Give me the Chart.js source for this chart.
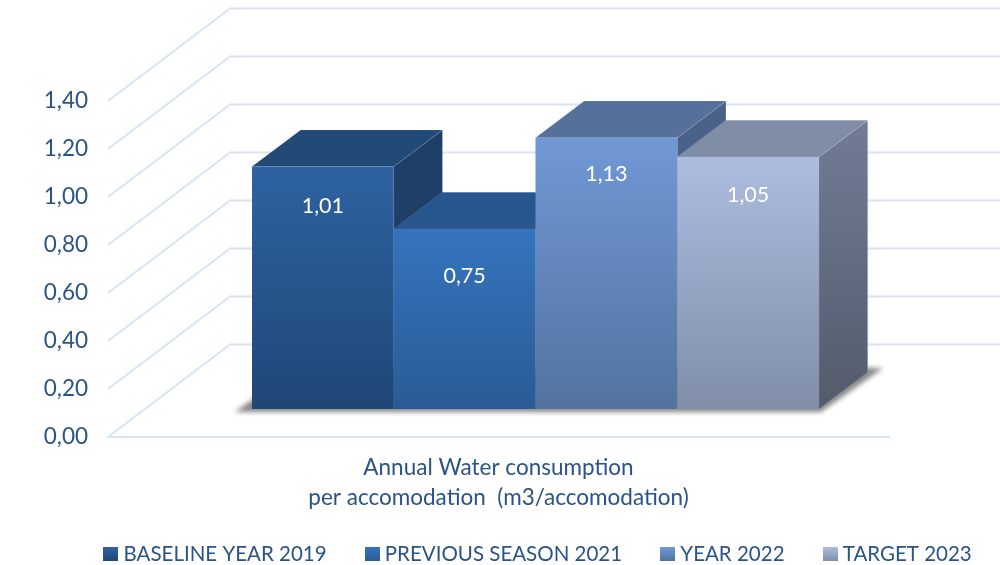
<!DOCTYPE html>
<html>
<head>
<meta charset="utf-8">
<title>Annual Water consumption</title>
<script src="https://cdn.jsdelivr.net/npm/chart.js@4"></script>
<style>
  html, body { margin: 0; padding: 0; background: #fff; }
  canvas { display: block; }
</style>
</head>
<body>
<canvas id="waterChart" width="1000" height="565"></canvas>
<script>
const categories = [['Annual Water consumption', 'per accomodation  (m3/accomodation)']];
const seriesNames = ['BASELINE YEAR 2019', 'PREVIOUS SEASON 2021', 'YEAR 2022', 'TARGET 2023'];
const baseline2019 = [1.01];
const previous2021 = [0.75];
const year2022 = [1.13];
const target2023 = [1.05];
const tickLabels = ['0,00', '0,20', '0,40', '0,60', '0,80', '1,00', '1,20', '1,40'];
const valueLabels = ['1,01', '0,75', '1,13', '1,05'];

const frontTop = ['#2e62a1', '#3574bd', '#7198d6', '#acbde0'];
const frontBottom = ['#1f4777', '#2a5b96', '#52739f', '#808ea8'];
const topFace = ['#214a78', '#28568f', '#54709b', '#808da6'];
const sideTop = ['#1e3f68', '#1e3f68', '#4a6289', '#717c95'];
const sideBottom = ['#1e3f68', '#1e3f68', '#4a6289', '#535b6c'];

const textColor = '#2a5488';
const lineColor = '#d7e4f5';
const edgeColor = 'rgba(255, 255, 255, 0.1)';
const fontFamily = 'Lato, "Open Sans", sans-serif';

// 3D layout: how far the bars sit behind the axis plane, and how deep things are
const plane = { dx: 37, dy: 28 };
const depth = { dx: 48.7, dy: 36.7 };
const wall = { dx: 122, dy: 92.5 };

function swatch(i) {
  const c = document.createElement('canvas');
  c.width = 15;
  c.height = 14;
  const g = c.getContext('2d');
  const grad = g.createLinearGradient(0, 0, 0, 14);
  grad.addColorStop(0, frontTop[i]);
  grad.addColorStop(1, frontBottom[i]);
  g.fillStyle = grad;
  g.fillRect(0, 0, 15, 14);
  return c;
}

function polygon(ctx, pts, fill, stroke) {
  ctx.beginPath();
  pts.forEach((p, i) => (i ? ctx.lineTo(p[0], p[1]) : ctx.moveTo(p[0], p[1])));
  ctx.closePath();
  ctx.fillStyle = fill;
  ctx.fill();
  if (stroke) {
    ctx.strokeStyle = stroke;
    ctx.lineWidth = 1;
    ctx.stroke();
  }
}

const box3d = {
  id: 'box3d',
  afterLayout(chart) {
    // legend sits right of centre in the original
    const legend = chart.legend;
    legend.left += 40;
    legend.right += 40;
    legend.top = 501;
    // x labels get clipped to the axis box, give them room
    chart.scales.x.bottom = 530;
  },
  beforeDatasetsDraw(chart) {
    const { ctx, chartArea, scales } = chart;
    ctx.save();
    ctx.strokeStyle = lineColor;
    ctx.lineWidth = 2;
    scales.y.ticks.forEach(t => {
      const y = scales.y.getPixelForValue(t.value);
      ctx.beginPath();
      ctx.moveTo(chartArea.left, y);
      ctx.lineTo(chartArea.left + wall.dx, y - wall.dy);
      ctx.lineTo(chartArea.right + wall.dx, y - wall.dy);
      ctx.stroke();
    });
    // soft shadow under the bars
    const first = chart.getDatasetMeta(0).data[0];
    const last = chart.getDatasetMeta(chart.data.datasets.length - 1).data[0];
    const base = first.base - plane.dy;
    const left = first.x - first.width / 2 + plane.dx;
    const right = last.x + last.width / 2 + plane.dx;
    ctx.filter = 'blur(2.5px)';
    polygon(ctx, [
      [left - 17, base + 3],
      [right + 2, base + 3],
      [right + 64, base - 41],
      [left + 45, base - 41]
    ], '#868686');
    ctx.restore();
  },
  beforeDatasetDraw() {
    return false; // bars are painted left to right below, not in the default order
  },
  afterDatasetsDraw(chart) {
    const { ctx } = chart;
    chart.data.datasets.forEach((ds, i) => {
      const bar = chart.getDatasetMeta(i).data[0];
      const l = bar.x - bar.width / 2;
      const r = bar.x + bar.width / 2;
      const t = bar.y;
      const b = bar.base;
      ctx.save();
      ctx.translate(plane.dx, -plane.dy);
      const sideGrad = ctx.createLinearGradient(0, t - depth.dy, 0, b);
      sideGrad.addColorStop(0, sideTop[i]);
      sideGrad.addColorStop(1, sideBottom[i]);
      polygon(ctx, [[r, t], [r + depth.dx, t - depth.dy], [r + depth.dx, b - depth.dy], [r, b]], sideGrad, edgeColor);
      polygon(ctx, [[l, t], [l + depth.dx, t - depth.dy], [r + depth.dx, t - depth.dy], [r, t]], topFace[i], edgeColor);
      bar.draw(ctx);
      // the label rides a bit lower on short bars
      const h = b - t;
      ctx.fillStyle = '#ffffff';
      ctx.font = '21.5px ' + fontFamily;
      ctx.textAlign = 'center';
      ctx.textBaseline = 'middle';
      ctx.fillText(valueLabels[i], bar.x, t + 68 - 0.118 * h);
      ctx.restore();
    });
  }
};

new Chart(document.getElementById('waterChart'), {
  type: 'bar',
  plugins: [box3d],
  data: {
    labels: categories,
    datasets: [baseline2019, previous2021, year2022, target2023].map((values, i) => ({
      label: seriesNames[i],
      data: values,
      categoryPercentage: 0.726,
      barPercentage: 1,
      borderWidth: 0,
      backgroundColor(context) {
        const { chart } = context;
        if (!chart.chartArea) return frontTop[i];
        const y = chart.scales.y;
        const grad = chart.ctx.createLinearGradient(0, y.getPixelForValue(values[0]), 0, y.getPixelForValue(0));
        grad.addColorStop(0, frontTop[i]);
        grad.addColorStop(1, frontBottom[i]);
        return grad;
      }
    }))
  },
  options: {
    responsive: false,
    animation: false,
    devicePixelRatio: 1,
    layout: { padding: { top: 101, left: 0, right: 0, bottom: 0 } },
    scales: {
      x: {
        grid: { display: false, drawTicks: false },
        border: { display: true, color: lineColor, width: 2 },
        afterFit(scale) { scale.height = 128 - (scale.chart.legend.height || 0); },
        ticks: {
          color: textColor,
          font: { family: fontFamily, size: 22.5, lineHeight: 1.333 },
          padding: 16,
          maxRotation: 0,
          autoSkip: false
        }
      },
      y: {
        min: 0,
        max: 1.4,
        grid: { display: false, drawTicks: false },
        border: { display: false },
        afterFit(scale) { scale.width = 108; },
        ticks: {
          stepSize: 0.2,
          autoSkip: false,
          color: textColor,
          padding: 20,
          font: { family: fontFamily, size: 22.5 },
          callback: (value, index) => tickLabels[index]
        }
      },
      // empty axis, only holds the room right of the floor
      rightGap: {
        position: 'right',
        grid: { display: false, drawTicks: false },
        border: { display: false },
        ticks: { display: false },
        afterFit(scale) { scale.width = 111; }
      }
    },
    plugins: {
      title: { display: false },
      tooltip: { enabled: false },
      legend: {
        position: 'bottom',
        labels: {
          color: textColor,
          font: { family: fontFamily, size: 20.5 },
          usePointStyle: true,
          pointStyleWidth: 5,
          padding: 43,
          generateLabels(chart) {
            const items = Chart.defaults.plugins.legend.labels.generateLabels(chart);
            items.forEach((item, i) => { item.pointStyle = swatch(i); });
            return items;
          }
        }
      }
    }
  }
});
</script>
</body>
</html>
